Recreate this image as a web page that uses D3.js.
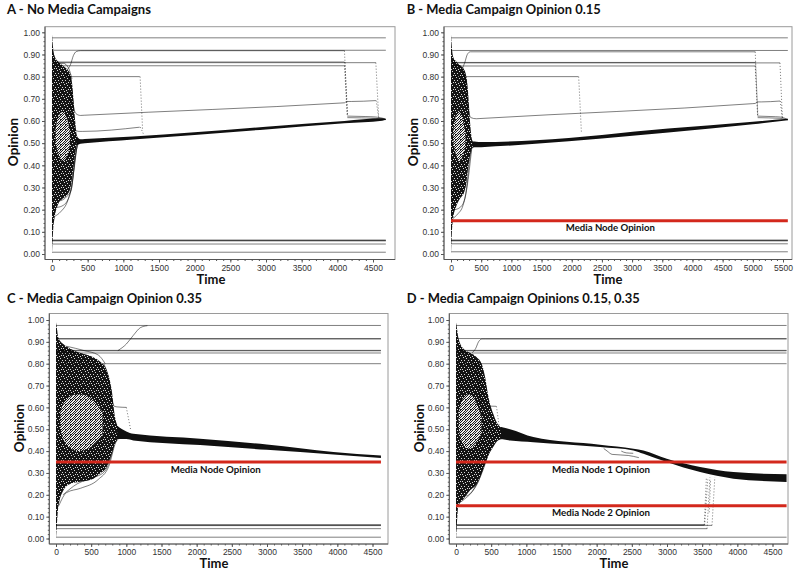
<!DOCTYPE html>
<html><head><meta charset="utf-8">
<script src="https://cdn.jsdelivr.net/npm/d3@7"></script>
<style>
body{margin:0;background:#fff;}
svg{display:block;}
</style></head><body>
<svg id="chart" width="800" height="576"></svg>
<script>
// ---------------- DATA ----------------
const titles = ["A - No Media Campaigns","B - Media Campaign Opinion 0.15","C - Media Campaign Opinion 0.35","D - Media Campaign Opinions 0.15, 0.35"];
const opinionTicks = [0,0.1,0.2,0.3,0.4,0.5,0.6,0.7,0.8,0.9,1.0];
const timeTicksA = [0,500,1000,1500,2000,2500,3000,3500,4000,4500];
const timeTicksB = [0,500,1000,1500,2000,2500,3000,3500,4000,4500,5000,5500];
const timeTicksC = [0,500,1000,1500,2000,2500,3000,3500,4000,4500];
const timeTicksD = [0,500,1000,1500,2000,2500,3000,3500,4000,4500];
const timeEnd = [4680, 5580, 4620, 4700];

// stable agents: [opinion, tStart, tEnd]
const flatA = [[0.975,0,4680],[0.919,0,4680],[0.866,0,4100],[0.863,0,4540],[0.849,0,4100],[0.800,0,1230],[0.063,0,4680],[0.061,0,4680],[0.059,0,4680],[0.045,0,4680],[0.008,0,4680]];
const flatB = [[0.975,0,5580],[0.918,0,5580],[0.864,0,5040],[0.862,0,5450],[0.848,0,5040],[0.800,0,2110],[0.063,0,5580],[0.061,0,5580],[0.059,0,5580],[0.046,0,5580],[0.010,0,5580]];
const flatC = [[0.975,0,4620],[0.915,0,4620],[0.913,0,4620],[0.861,0,4620],[0.859,0,4620],[0.849,0,4620],[0.800,0,4620],[0.063,0,4620],[0.061,0,4620],[0.059,0,4620],[0.045,0,4620],[0.006,0,4620]];
const flatD = [[0.975,0,4700],[0.915,0,4700],[0.861,0,4700],[0.859,0,4700],[0.849,0,4700],[0.800,0,4700],[0.063,0,3530],[0.061,0,3530],[0.060,0,3640],[0.045,0,3570],[0.006,0,4700]];

// moving agents: [[time, opinion], ...]
const agentsA = [
  [[210,0.83],[260,0.855],[300,0.895],[340,0.913],[400,0.917],[450,0.917],[4100,0.917]],
  [[190,0.81],[240,0.80],[275,0.74],[305,0.66],[340,0.632],[400,0.625],[460,0.626],[4050,0.681],[4100,0.682]],
  [[4100,0.682],[4140,0.688],[4200,0.688],[4540,0.692]],
  [[250,0.70],[290,0.60],[325,0.56],[380,0.553],[430,0.553],[1230,0.572]],
  [[4140,0.622],[4400,0.62],[4540,0.618],[4680,0.609]],
  [[4140,0.615],[4540,0.612],[4680,0.606]],
  [[40,0.17],[120,0.19],[220,0.24],[280,0.31],[330,0.45],[370,0.50]],
  [[70,0.21],[160,0.22],[240,0.26],[300,0.36],[350,0.49]],
  [[120,0.24],[210,0.26],[270,0.29],[320,0.42],[360,0.50]],
  [[80,0.86],[160,0.86],[230,0.84],[280,0.79]]
];
const agentsB = [
  [[180,0.83],[230,0.865],[270,0.90],[320,0.912],[380,0.912],[5040,0.912]],
  [[170,0.82],[220,0.80],[255,0.74],[290,0.65],[330,0.615],[420,0.61],[480,0.611],[4990,0.678],[5040,0.679]],
  [[5040,0.679],[5080,0.686],[5140,0.686],[5450,0.69]],
  [[5080,0.622],[5300,0.62],[5450,0.618],[5580,0.607]],
  [[5080,0.615],[5450,0.612],[5580,0.605]],
  [[30,0.16],[110,0.18],[200,0.22],[260,0.30],[310,0.43],[350,0.48]],
  [[60,0.20],[150,0.21],[230,0.25],[290,0.35],[340,0.47]],
  [[70,0.85],[150,0.85],[210,0.83],[250,0.78]]
];
const agentsC = [
  [[880,0.86],[1000,0.89],[1100,0.93],[1200,0.965],[1300,0.974]],
  [[680,0.80],[740,0.74],[790,0.64],[830,0.605],[880,0.602],[1000,0.60]],
  [[40,0.15],[150,0.21],[350,0.23],[600,0.27],[750,0.33],[850,0.44],[900,0.46]],
  [[100,0.20],[300,0.25],[550,0.28],[700,0.31],[820,0.42]],
  [[150,0.88],[400,0.86],[600,0.84],[700,0.80]]
];
const agentsD = [
  [[230,0.85],[280,0.87],[320,0.90],[370,0.913],[420,0.913],[4700,0.913]],
  [[250,0.82],[290,0.79],[320,0.71],[345,0.63],[380,0.61],[430,0.607],[570,0.605]],
  [[2100,0.412],[2150,0.40],[2220,0.385],[2450,0.38],[2600,0.37]],
  [[2350,0.40],[2420,0.392],[2520,0.39]],
  [[40,0.16],[120,0.18],[220,0.21],[330,0.27],[420,0.36],[520,0.43]],
  [[80,0.19],[180,0.20],[280,0.24],[380,0.31],[480,0.41]]
];

// dotted transitions: [t0, op0, t1, op1]
const jumpsA = [[1235,0.80,1270,0.56],[1240,0.572,1290,0.535],[4100,0.917,4140,0.625],[4105,0.866,4145,0.622],[4100,0.849,4140,0.62],[4540,0.863,4580,0.614],[4545,0.692,4580,0.612]];
const jumpsB = [[2115,0.80,2160,0.55],[5040,0.912,5080,0.625],[5045,0.864,5085,0.62],[5040,0.848,5080,0.62],[5450,0.862,5490,0.612],[5455,0.69,5490,0.61]];
const jumpsC = [[1000,0.60,1060,0.50]];
const jumpsD = [[575,0.605,620,0.50],[3530,0.063,3560,0.28],[3535,0.061,3580,0.27],[3570,0.045,3610,0.28],[3640,0.060,3680,0.28],[3600,0.12,3620,0.27]];

// envelopes: [time, low, high]
const cloudA = [[0,0.0,0.99],[15,0.10,0.93],[40,0.17,0.89],[80,0.22,0.87],[150,0.25,0.85],[220,0.27,0.83],[260,0.30,0.81],[285,0.35,0.76],[305,0.40,0.68],[325,0.45,0.60],[345,0.49,0.54],[370,0.50,0.52]];
const cloudB = [[0,0.0,0.99],[15,0.10,0.93],[35,0.16,0.89],[80,0.21,0.87],[150,0.25,0.85],[220,0.28,0.83],[255,0.32,0.80],[280,0.38,0.74],[300,0.42,0.66],[320,0.45,0.58],[345,0.475,0.52],[370,0.48,0.505]];
const cloudC = [[0,0.0,0.99],[10,0.05,0.97],[33,0.145,0.92],[104,0.22,0.89],[199,0.25,0.87],[341,0.26,0.85],[531,0.274,0.83],[626,0.297,0.81],[721,0.327,0.77],[792,0.388,0.68],[839,0.434,0.556],[887,0.457,0.51]];
const cloudD = [[0,0.0,0.99],[10,0.05,0.97],[33,0.15,0.92],[104,0.18,0.87],[199,0.22,0.85],[294,0.25,0.83],[365,0.30,0.80],[413,0.34,0.74],[460,0.38,0.65],[531,0.42,0.57],[602,0.45,0.52],[673,0.455,0.505]];
const holeA = [[50,0.50,0.56],[90,0.45,0.62],[150,0.42,0.64],[210,0.44,0.61],[250,0.49,0.55]];
const holeB = [[40,0.50,0.56],[80,0.45,0.62],[140,0.42,0.64],[200,0.45,0.60],[240,0.49,0.54]];
const holeC = [[60,0.50,0.58],[150,0.43,0.64],[320,0.40,0.66],[500,0.42,0.64],[660,0.47,0.58]];
const holeD = [[40,0.50,0.58],[100,0.43,0.64],[190,0.41,0.66],[290,0.44,0.62],[360,0.48,0.56]];
const bandA = [[340,0.49,0.53],[400,0.497,0.518],[460,0.499,0.519],[1135,0.516,0.53],[3000,0.562,0.574],[4100,0.59,0.60],[4630,0.601,0.612],[4680,0.605,0.609]];
const bandB = [[360,0.48,0.507],[420,0.481,0.506],[500,0.482,0.505],[1400,0.497,0.513],[3600,0.548,0.566],[5000,0.585,0.597],[5580,0.603,0.61]];
const bandC = [[870,0.455,0.515],[1000,0.455,0.49],[1100,0.449,0.479],[2048,0.428,0.457],[2997,0.406,0.43],[3945,0.385,0.396],[4620,0.368,0.38]];
const bandD = [[640,0.455,0.51],[768,0.449,0.50],[1100,0.441,0.464],[2048,0.419,0.429],[2523,0.403,0.411],[2665,0.388,0.403],[2997,0.35,0.365],[3471,0.304,0.327],[3945,0.274,0.304],[4700,0.259,0.294]];

// media nodes
const mediaA = [];
const mediaB = [0.15];
const mediaC = [0.35];
const mediaD = [0.35, 0.15];
const mediaLabelsA = [];
const mediaLabelsB = ["Media Node Opinion"];
const mediaLabelsC = ["Media Node Opinion"];
const mediaLabelsD = ["Media Node 1 Opinion","Media Node 2 Opinion"];

// ---------------- LAYOUT ----------------
const layouts = [
  {frame:[45,26.7,395,259.5], xr:[52,373], yr:[254,32.3], title:[7,13.5,144], ylab:[12.5,142], xlab:[211,284], mlab:[610.3], mlabW:[89]},
  {frame:[444,26.7,792,259.5], xr:[451,783], yr:[254,32.3], title:[406.7,13.5,194], ylab:[412.5,142], xlab:[608,284], mlab:[610.3], mlabW:[89]},
  {frame:[49.3,313.5,388,544], xr:[56,372.5], yr:[538.5,320], title:[7,302.5,195], ylab:[19,428], xlab:[214,567.5], mlab:[215.7], mlabW:[90]},
  {frame:[449.3,313.5,788,544], xr:[456,772.5], yr:[538.5,320], title:[406.7,302.5,233], ylab:[419,428], xlab:[614,567.5], mlab:[601,601], mlabW:[98,98]}
];

const panels = [
  {xTicks:timeTicksA, flat:flatA, agents:agentsA, jumps:jumpsA, cloud:cloudA, hole:holeA, band:bandA, media:mediaA, mediaLabels:mediaLabelsA},
  {xTicks:timeTicksB, flat:flatB, agents:agentsB, jumps:jumpsB, cloud:cloudB, hole:holeB, band:bandB, media:mediaB, mediaLabels:mediaLabelsB},
  {xTicks:timeTicksC, flat:flatC, agents:agentsC, jumps:jumpsC, cloud:cloudC, hole:holeC, band:bandC, media:mediaC, mediaLabels:mediaLabelsC},
  {xTicks:timeTicksD, flat:flatD, agents:agentsD, jumps:jumpsD, cloud:cloudD, hole:holeD, band:bandD, media:mediaD, mediaLabels:mediaLabelsD}
];

const svg = d3.select("#chart");
const defs = svg.append("defs");
// dense cloud texture (irregular white specks on black)
const dense = defs.append("pattern").attr("id","dense").attr("patternUnits","userSpaceOnUse").attr("width",7).attr("height",7);
dense.append("rect").attr("width",7).attr("height",7).attr("fill","#141414");
[[1,0],[4,1],[6,3],[2,3],[0,5],[5,5],[3,6]].forEach(p=>dense.append("rect").attr("x",p[0]).attr("y",p[1]).attr("width",1).attr("height",1).attr("fill","#d8d8d8"));
// lighter speckled texture (centre of the cloud)
const sparse = defs.append("pattern").attr("id","sparse").attr("patternUnits","userSpaceOnUse").attr("width",5).attr("height",5);
sparse.append("rect").attr("width",5).attr("height",5).attr("fill","#ececec");
[[0,0],[2,0],[1,1],[4,1],[3,2],[0,2],[2,3],[4,3],[1,4],[3,4],[0,4]].forEach(p=>sparse.append("rect").attr("x",p[0]).attr("y",p[1]).attr("width",1).attr("height",1).attr("fill","#1a1a1a"));

const FONT = "Lato, 'Open Sans', sans-serif";
const TICKFONT = "'Liberation Sans', Arial, sans-serif";

panels.forEach((p,i)=>{
  const L = layouts[i];
  const [fx0,fy0,fx1,fy1] = L.frame;
  const g = svg.append("g");
  const x = d3.scaleLinear().domain([0, p.xTicks[p.xTicks.length-1]]).range(L.xr);
  const y = d3.scaleLinear().domain([0,1]).range(L.yr);
  const clipId = "clip"+i;
  defs.append("clipPath").attr("id",clipId).append("rect")
    .attr("x",fx0).attr("y",fy0).attr("width",fx1-fx0).attr("height",fy1-fy0);
  const plot = g.append("g").attr("clip-path",`url(#${clipId})`);

  const area = d3.area().x(d=>x(d[0])).y0(d=>y(d[1])).y1(d=>y(d[2])).curve(d3.curveMonotoneX);
  plot.append("path").datum(p.cloud).attr("d",area).attr("fill","url(#dense)");
  plot.append("path").datum(p.hole).attr("d",area).attr("fill","url(#sparse)");
  plot.append("path").datum(p.band).attr("d",area).attr("fill","#101010");

  plot.selectAll("line.flat").data(p.flat).join("line").attr("class","flat")
    .attr("x1",d=>x(d[1])).attr("x2",d=>x(d[2]))
    .attr("y1",d=>y(d[0])).attr("y2",d=>y(d[0]))
    .attr("stroke","#000").attr("stroke-opacity",0.5).attr("stroke-width",1);

  const line = d3.line().x(d=>x(d[0])).y(d=>y(d[1])).curve(d3.curveMonotoneX);
  plot.selectAll("path.agent").data(p.agents).join("path").attr("class","agent")
    .attr("d",line).attr("fill","none").attr("stroke","#000").attr("stroke-opacity",0.5).attr("stroke-width",1);

  plot.selectAll("line.jump").data(p.jumps).join("line").attr("class","jump")
    .attr("x1",d=>x(d[0])).attr("y1",d=>y(d[1])).attr("x2",d=>x(d[2])).attr("y2",d=>y(d[3]))
    .attr("stroke","#000").attr("stroke-opacity",0.55).attr("stroke-width",1).attr("stroke-dasharray","1,2");

  p.media.forEach((m,j)=>{
    plot.append("line").attr("x1",x(0)).attr("x2",x(timeEnd[i])).attr("y1",y(m)).attr("y2",y(m))
      .attr("stroke","#d3281c").attr("stroke-width",3);
    g.append("text").attr("x",L.mlab[j]).attr("y",y(m)+10.5).attr("text-anchor","middle")
      .attr("font-family",FONT).attr("font-weight","bold").attr("font-size",10)
      .attr("textLength",L.mlabW[j]).attr("lengthAdjust","spacingAndGlyphs")
      .attr("fill","#111").text(p.mediaLabels[j]);
  });

  // frame
  g.append("rect").attr("x",fx0).attr("y",fy0).attr("width",fx1-fx0).attr("height",fy1-fy0)
    .attr("fill","none").attr("stroke","#9a9a9a").attr("stroke-width",1);
  g.append("line").attr("x1",fx0).attr("x2",fx0).attr("y1",fy0).attr("y2",fy1).attr("stroke","#555");
  g.append("line").attr("x1",fx0).attr("x2",fx1).attr("y1",fy1).attr("y2",fy1).attr("stroke","#555");

  // axes
  const yAx = g.append("g").attr("transform",`translate(${fx0},0)`)
    .call(d3.axisLeft(y).tickValues(opinionTicks).tickFormat(d3.format(".2f")).tickSize(3).tickPadding(2).tickSizeOuter(0));
  yAx.select(".domain").remove();
  const yMin = g.append("g").attr("transform",`translate(${fx0},0)`)
    .call(d3.axisLeft(y).tickValues(d3.range(0,1.001,0.02)).tickFormat("").tickSize(1.5).tickSizeOuter(0));
  yMin.select(".domain").remove();
  const xAx = g.append("g").attr("transform",`translate(0,${fy1})`)
    .call(d3.axisBottom(x).tickValues(p.xTicks).tickFormat(d3.format("d")).tickSize(3).tickPadding(2).tickSizeOuter(0));
  xAx.select(".domain").remove();
  const xMin = g.append("g").attr("transform",`translate(0,${fy1})`)
    .call(d3.axisBottom(x).tickValues(d3.range(0, p.xTicks[p.xTicks.length-1]+1, 100)).tickFormat("").tickSize(1.5).tickSizeOuter(0));
  xMin.select(".domain").remove();
  g.selectAll(".tick line").attr("stroke","#555");
  g.selectAll(".tick text").attr("font-family",TICKFONT).attr("font-size",8.5).attr("fill","#333");

  // titles
  g.append("text").attr("x",L.title[0]).attr("y",L.title[1])
    .attr("font-family",FONT).attr("font-weight","bold").attr("font-size",13.5)
    .attr("textLength",L.title[2]).attr("lengthAdjust","spacingAndGlyphs")
    .attr("fill","#111").text(titles[i]);
  g.append("text").attr("transform",`translate(${L.ylab[0]+5},${L.ylab[1]}) rotate(-90)`)
    .attr("text-anchor","middle").attr("font-family",FONT).attr("font-weight","bold").attr("font-size",13.5)
    .attr("fill","#111").text("Opinion");
  g.append("text").attr("x",L.xlab[0]).attr("y",L.xlab[1]).attr("text-anchor","middle")
    .attr("font-family",FONT).attr("font-weight","bold").attr("font-size",13)
    .attr("fill","#111").text("Time");
});
</script></body></html>
